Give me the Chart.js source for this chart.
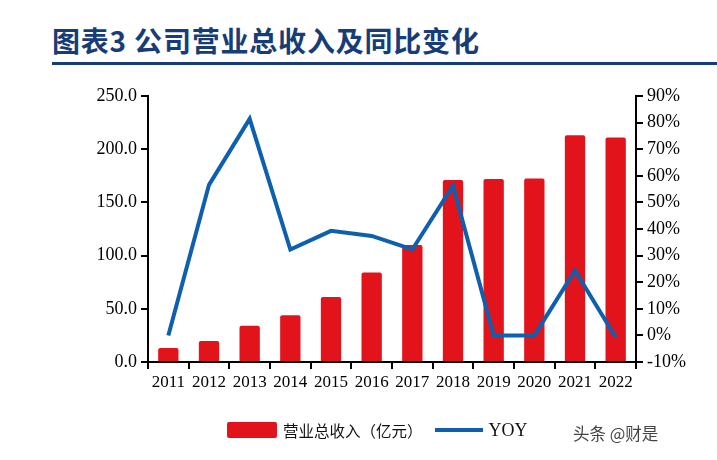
<!DOCTYPE html>
<html>
<head>
<meta charset="utf-8">
<script src="https://cdn.jsdelivr.net/npm/chart.js@4.4.1/dist/chart.umd.min.js"></script>
<style>
    body { margin: 0; width: 717px; height: 460px; background: #fff; overflow: hidden; position: relative; }
    .title { position: absolute; left: 52px; top: 20px; font-family: "Noto Sans CJK SC", sans-serif; font-weight: bold; font-size: 28px; color: #163d78; letter-spacing: 0.8px; }
    .title-rule { position: absolute; left: 52px; top: 62px; width: 665px; height: 3px; background: #163d78; }
    #chartWrap { position: absolute; left: 0; top: 0; width: 717px; height: 460px; }
    .legend { position: absolute; top: 419px; left: 227px; font-size: 16px; color: #111; display: flex; align-items: center; }
    .legend .box { width: 50px; height: 16px; background: #e3131c; border-radius: 2px; margin-right: 6px; }
    .legend .zh { font-family: "Noto Sans CJK SC", sans-serif; font-size: 15.5px; margin-right: 12px; }
    .legend .ln { width: 48px; height: 4px; background: #0e5fad; margin-right: 6px; }
    .legend .en { font-family: "Liberation Serif", serif; font-size: 18px; }
    .mark { position: absolute; left: 573px; top: 421px; font-family: "Noto Sans CJK SC", sans-serif; font-size: 16.5px; color: #444; }
</style>
</head>
<body>
<div class="title">图表3 公司营业总收入及同比变化</div>
<div class="title-rule"></div>
<div id="chartWrap"><canvas id="revChart" width="717" height="460"></canvas></div>
<div class="legend">
    <span class="box"></span><span class="zh">营业总收入（亿元）</span>
    <span class="ln"></span><span class="en">YOY</span>
</div>
<div class="mark">头条 @财是</div>
<script>
const years = ['2011', '2012', '2013', '2014', '2015', '2016', '2017', '2018', '2019', '2020', '2021', '2022'];
const revenue = [13.2, 19.7, 34.0, 44.0, 61.0, 84.0, 110.0, 171.0, 172.0, 172.5, 213.0, 211.0];
const yoy = [0.0, 56.6, 81.4, 32.3, 39.3, 37.4, 32.3, 56.3, 0.0, 0.0, 24.4, -0.7];
const revenueTicks = [0, 50, 100, 150, 200, 250];
const yoyTicks = [-10, 0, 10, 20, 30, 40, 50, 60, 70, 80, 90];

const serifFamily = '"Liberation Serif", "Times New Roman", serif';

const ctx = document.getElementById('revChart').getContext('2d');
new Chart(ctx, {
    type: 'bar',
    data: {
        labels: years,
        datasets: [{
            type: 'line',
            label: 'YOY',
            data: yoy,
            yAxisID: 'y1',
            borderColor: '#0e5fad',
            borderWidth: 4,
            pointRadius: 0,
            tension: 0,
            order: 1
        }, {
            label: '营业总收入（亿元）',
            data: revenue,
            yAxisID: 'y',
            backgroundColor: '#e3131c',
            borderRadius: 2,
            borderSkipped: 'bottom',
            categoryPercentage: 1,
            barPercentage: 0.5,
            order: 2
        }]
    },
    options: {
        responsive: false,
        animation: false,
        layout: { padding: { top: 96, left: 0, right: 0, bottom: 0 } },
        plugins: {
            legend: { display: false },
            tooltip: { enabled: false }
        },
        scales: {
            x: {
                offset: true,
                grid: { display: true, drawOnChartArea: false, offset: true, color: '#000', lineWidth: 2, tickLength: 7 },
                border: { color: '#000', width: 2 },
                ticks: { color: '#000', font: { family: serifFamily, size: 17 }, padding: 3, maxRotation: 0 },
                afterFit: scale => { scale.height = 98; }
            },
            y: {
                position: 'left',
                min: 0,
                max: 250,
                afterBuildTicks: scale => { scale.ticks = revenueTicks.map(v => ({ value: v })); },
                grid: { display: true, drawOnChartArea: false, color: '#000', lineWidth: 2, tickLength: 7 },
                border: { color: '#000', width: 2 },
                ticks: { color: '#000', font: { family: serifFamily, size: 18 }, padding: 4, callback: v => Number(v).toFixed(1) },
                afterFit: scale => { scale.width = 148; }
            },
            y1: {
                position: 'right',
                min: -10,
                max: 90,
                afterBuildTicks: scale => { scale.ticks = yoyTicks.map(v => ({ value: v })); },
                grid: { display: true, drawOnChartArea: false, color: '#000', lineWidth: 2, tickLength: 7 },
                border: { color: '#000', width: 2 },
                ticks: { color: '#000', font: { family: serifFamily, size: 18 }, padding: 4, callback: v => v + '%' },
                afterFit: scale => { scale.width = 81; }
            }
        }
    }
});
</script>
</body>
</html>
